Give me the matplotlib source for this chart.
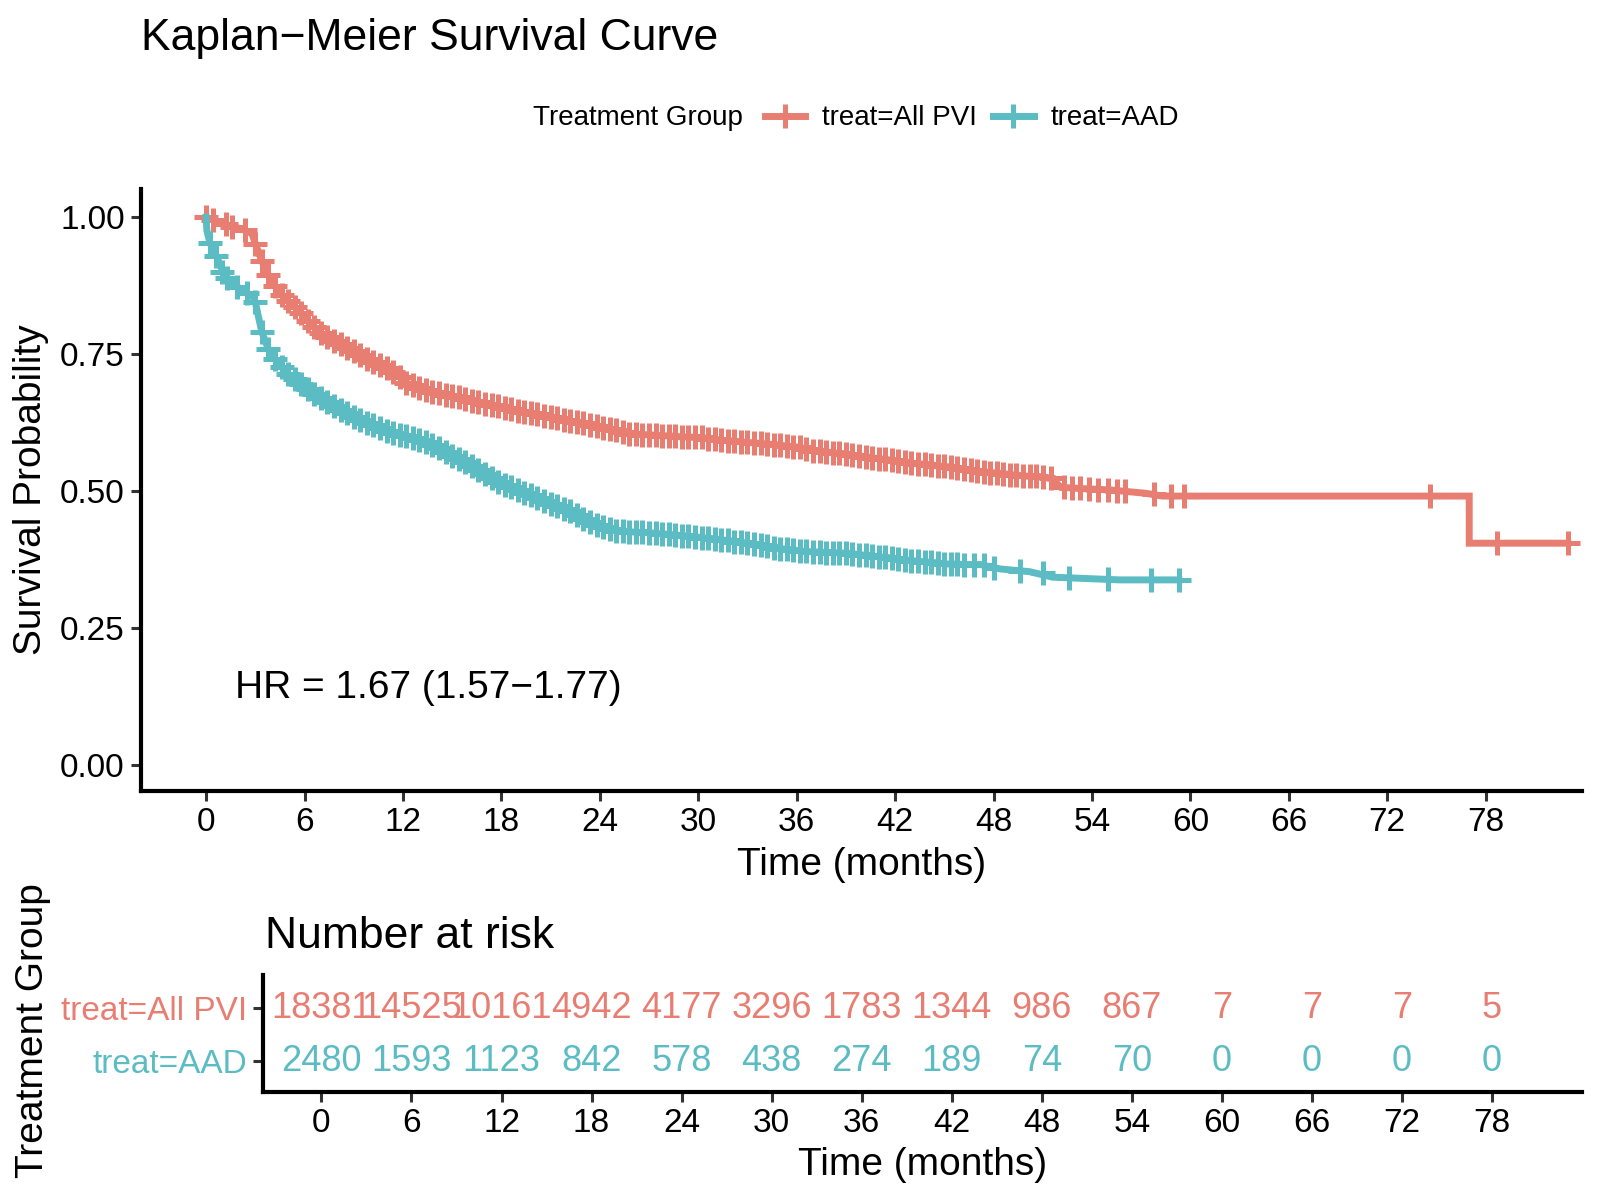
import numpy as np
import matplotlib
matplotlib.use('Agg')
import matplotlib.pyplot as plt
from matplotlib.lines import Line2D

plt.rcParams['font.family'] = ['Liberation Sans', 'DejaVu Sans']

RED = '#E87D72'
CYAN = '#5BBCC3'

# ---- All PVI curve (months, survival) ----
pvi_head_t = [0.0, 0.4, 0.8, 1.2, 1.6, 2.0, 2.4, 2.8]
pvi_head_s = [1.0, 0.995, 0.991, 0.987, 0.983, 0.980, 0.976, 0.970]
# dense stretch, a censor mark sits on every one of these points
pvi_dense_t = [3.0, 3.4, 3.8, 4.2, 4.6, 5.0, 5.4, 5.8, 6.2, 6.6, 7.0, 7.4, 7.8, 8.2, 8.6,
               9.0, 9.4, 9.8, 10.2, 10.6, 11.0, 11.4, 11.8, 12.2, 12.6, 13.0, 13.4, 13.8,
               14.2, 14.6, 15.0, 15.4, 15.8, 16.2, 16.6, 17.0, 17.4, 17.8, 18.2, 18.6, 19.0,
               19.4, 19.8, 20.2, 20.6, 21.0, 21.4, 21.8, 22.2, 22.6, 23.0, 23.4, 23.8, 24.2,
               24.6, 25.0, 25.4, 25.8, 26.2, 26.6, 27.0, 27.4, 27.8, 28.2, 28.6, 29.0, 29.4,
               29.8, 30.2, 30.6, 31.0, 31.4, 31.8, 32.2, 32.6, 33.0, 33.4, 33.8, 34.2, 34.6,
               35.0, 35.4, 35.8, 36.2, 36.6, 37.0, 37.4, 37.8, 38.2, 38.6, 39.0, 39.4, 39.8,
               40.2, 40.6, 41.0, 41.4, 41.8, 42.2, 42.6, 43.0, 43.4, 43.8, 44.2, 44.6, 45.0,
               45.4, 45.8, 46.2, 46.6, 47.0, 47.4, 47.8, 48.2, 48.6, 49.0, 49.4, 49.8, 50.2,
               50.6, 51.0]
pvi_dense_s = [0.952, 0.920, 0.895, 0.874, 0.858, 0.847, 0.837, 0.825, 0.811, 0.800, 0.789,
               0.781, 0.775, 0.768, 0.762, 0.755, 0.749, 0.742, 0.736, 0.730, 0.724, 0.717,
               0.709, 0.698, 0.693, 0.689, 0.685, 0.681, 0.679, 0.676, 0.673, 0.671, 0.668,
               0.665, 0.662, 0.660, 0.657, 0.655, 0.652, 0.650, 0.647, 0.645, 0.642, 0.640,
               0.638, 0.635, 0.633, 0.630, 0.628, 0.626, 0.624, 0.621, 0.619, 0.616, 0.613,
               0.611, 0.608, 0.605, 0.604, 0.603, 0.603, 0.602, 0.601, 0.601, 0.600, 0.599,
               0.599, 0.598, 0.598, 0.596, 0.595, 0.593, 0.592, 0.591, 0.590, 0.589, 0.588,
               0.587, 0.586, 0.585, 0.584, 0.582, 0.581, 0.580, 0.577, 0.574, 0.573, 0.572,
               0.570, 0.569, 0.568, 0.566, 0.564, 0.563, 0.561, 0.559, 0.558, 0.556, 0.555,
               0.553, 0.551, 0.550, 0.549, 0.548, 0.546, 0.545, 0.544, 0.542, 0.540, 0.538,
               0.537, 0.535, 0.534, 0.533, 0.532, 0.530, 0.529, 0.528, 0.527, 0.527, 0.526]
pvi_tail_t = [51.6, 52.1, 53.2, 55.2, 57.3, 58.3, 77.0, 77.0, 83.0]
pvi_tail_s = [0.522, 0.507, 0.505, 0.502, 0.496, 0.491, 0.491, 0.405, 0.405]
pvi_cens_t = [0.0, 0.4, 1.2, 1.6, 2.4, 51.5, 52.3, 52.8, 53.3, 53.8, 54.4, 55.0, 55.5, 56.0,
              57.8, 58.8, 59.6, 74.6, 78.7, 83.0]
pvi_cens_s = [1.0, 0.995, 0.987, 0.983, 0.976, 0.524, 0.507, 0.506, 0.505, 0.504, 0.503,
              0.502, 0.501, 0.500, 0.494, 0.491, 0.491, 0.491, 0.405, 0.405]

# ---- AAD curve ----
aad_head_t = [0.0, 0.05, 0.24, 0.65, 1.05, 1.66, 2.27, 2.88]
aad_head_s = [1.0, 0.975, 0.953, 0.928, 0.898, 0.878, 0.866, 0.854]
aad_dense_t = [3.0, 3.4, 3.8, 4.2, 4.6, 5.0, 5.4, 5.8, 6.2, 6.6, 7.0, 7.4, 7.8, 8.2, 8.6,
               9.0, 9.4, 9.8, 10.2, 10.6, 11.0, 11.4, 11.8, 12.2, 12.6, 13.0, 13.4, 13.8,
               14.2, 14.6, 15.0, 15.4, 15.8, 16.2, 16.6, 17.0, 17.4, 17.8, 18.2, 18.6, 19.0,
               19.4, 19.8, 20.2, 20.6, 21.0, 21.4, 21.8, 22.2, 22.6, 23.0, 23.4, 23.8, 24.2,
               24.6, 25.0, 25.4, 25.8, 26.2, 26.6, 27.0, 27.4, 27.8, 28.2, 28.6, 29.0, 29.4,
               29.8, 30.2, 30.6, 31.0, 31.4, 31.8, 32.2, 32.6, 33.0, 33.4, 33.8, 34.2, 34.6,
               35.0, 35.4, 35.8, 36.2, 36.6, 37.0, 37.4, 37.8, 38.2, 38.6, 39.0, 39.4, 39.8,
               40.2, 40.6, 41.0, 41.4, 41.8, 42.2, 42.6, 43.0, 43.4, 43.8, 44.2, 44.6, 45.0,
               45.4, 45.8, 46.2]
aad_dense_s = [0.845, 0.790, 0.759, 0.741, 0.727, 0.714, 0.704, 0.695, 0.686, 0.678, 0.670,
               0.662, 0.655, 0.648, 0.642, 0.635, 0.630, 0.625, 0.620, 0.615, 0.610, 0.607,
               0.603, 0.600, 0.597, 0.593, 0.589, 0.585, 0.578, 0.571, 0.565, 0.559, 0.553,
               0.546, 0.538, 0.531, 0.524, 0.517, 0.511, 0.507, 0.502, 0.497, 0.493, 0.488,
               0.482, 0.477, 0.472, 0.467, 0.463, 0.456, 0.450, 0.444, 0.438, 0.434, 0.431,
               0.428, 0.427, 0.426, 0.425, 0.425, 0.424, 0.423, 0.422, 0.421, 0.420, 0.419,
               0.418, 0.417, 0.415, 0.414, 0.413, 0.411, 0.410, 0.408, 0.407, 0.405, 0.403,
               0.401, 0.399, 0.397, 0.395, 0.394, 0.393, 0.391, 0.390, 0.389, 0.389, 0.388,
               0.388, 0.387, 0.387, 0.386, 0.384, 0.383, 0.382, 0.380, 0.379, 0.378, 0.376,
               0.375, 0.373, 0.372, 0.371, 0.370, 0.369, 0.367, 0.367, 0.367, 0.366]
aad_tail_t = [47.2, 48.4, 50.2, 51.6, 55.7, 59.3]
aad_tail_s = [0.366, 0.358, 0.353, 0.343, 0.338, 0.338]
aad_cens_t = [0.24, 0.6, 1.0, 1.3, 1.9, 2.5, 46.8, 47.4, 48.0, 49.6, 51.0, 52.6, 55.0, 57.6, 59.3]
aad_cens_s = [0.953, 0.930, 0.900, 0.890, 0.873, 0.862, 0.366, 0.365, 0.360, 0.355, 0.350,
              0.342, 0.339, 0.338, 0.338]

# ---- number at risk table ----
risk_times = [0, 6, 12, 18, 24, 30, 36, 42, 48, 54, 60, 66, 72, 78]
pvi_risk = [18381, 14525, 10161, 4942, 4177, 3296, 1783, 1344, 986, 867, 7, 7, 7, 5]
aad_risk = [2480, 1593, 1123, 842, 578, 438, 274, 189, 74, 70, 0, 0, 0, 0]
groups = ['treat=All PVI', 'treat=AAD']
hr_text = 'HR = 1.67 (1.57\u22121.77)'

LW = 5
MS = 17
MEW = 3.6
TICK = 24

fig = plt.figure(figsize=(16, 12), dpi=100)

# main survival plot
ax = fig.add_axes([0.088, 0.341, 0.9885 - 0.088, 0.8427 - 0.341])
for ht, hs, dt, ds, tt, ts, ct, cs, col in [
        (pvi_head_t, pvi_head_s, pvi_dense_t, pvi_dense_s, pvi_tail_t, pvi_tail_s,
         pvi_cens_t, pvi_cens_s, RED),
        (aad_head_t, aad_head_s, aad_dense_t, aad_dense_s, aad_tail_t, aad_tail_s,
         aad_cens_t, aad_cens_s, CYAN)]:
    ax.plot(ht + dt + tt, hs + ds + ts, color=col, lw=LW, solid_joinstyle='miter')
    ax.plot(dt, ds, ls='none', marker='+', ms=MS, mew=MEW, color=col)
    ax.plot(ct, cs, ls='none', marker='+', ms=MS, mew=MEW, color=col)

ax.set_xlim(-3.98, 83.85)
ax.set_ylim(-0.047, 1.052)
ax.set_xticks(risk_times)
ax.set_yticks([0, 0.25, 0.5, 0.75, 1.0])
ax.set_yticklabels(['0.00', '0.25', '0.50', '0.75', '1.00'])
ax.tick_params(labelsize=TICK, length=7.5, width=2.2, color='#333333', pad=4)
for side in ['top', 'right']:
    ax.spines[side].set_visible(False)
for side in ['left', 'bottom']:
    ax.spines[side].set_linewidth(3)
ax.set_xlabel('Time (months)', fontsize=28, labelpad=7)
ax.set_ylabel('Survival Probability', fontsize=28, labelpad=8)
ax.text(1.74, 0.14, hr_text, fontsize=28, va='center', ha='left')

fig.text(0.088, 0.968, 'Kaplan\u2212Meier Survival Curve', fontsize=32, va='center', ha='left')

# legend
fig.text(0.4643, 0.9013, 'Treatment Group', fontsize=20, va='center', ha='right')
handles = [Line2D([0], [0], color=RED, lw=LW, marker='+', ms=MS, mew=MEW),
           Line2D([0], [0], color=CYAN, lw=LW, marker='+', ms=MS, mew=MEW)]
fig.legend(handles, groups, loc='center left', bbox_to_anchor=(0.478, 0.9013), ncol=2,
           frameon=False, fontsize=20, handlelength=1.45, handletextpad=0.6, columnspacing=0.6,
           borderaxespad=0, borderpad=0)

# risk table
rt = fig.add_axes([0.1645, 0.0901, 0.9885 - 0.1645, 0.1879 - 0.0901])
for t, n in zip(risk_times, pvi_risk):
    rt.text(t, 1, str(n), color=RED, fontsize=26, ha='center', va='center')
for t, n in zip(risk_times, aad_risk):
    rt.text(t, 0, str(n), color=CYAN, fontsize=26, ha='center', va='center')
rt.set_xlim(-3.88, 83.97)
rt.set_ylim(-0.577, 1.635)
rt.set_xticks(risk_times)
rt.set_yticks([0, 1])
rt.set_yticklabels([groups[1], groups[0]])
for lab, c in zip(rt.get_yticklabels(), [CYAN, RED]):
    lab.set_color(c)
rt.tick_params(labelsize=TICK, length=7.5, width=2.2, color='#333333', pad=4)
for side in ['top', 'right']:
    rt.spines[side].set_visible(False)
for side in ['left', 'bottom']:
    rt.spines[side].set_linewidth(3)
rt.set_xlabel('Time (months)', fontsize=28, labelpad=6)
fig.text(0.1658, 0.220, 'Number at risk', fontsize=32, va='center', ha='left')
fig.text(0.0204, 0.141, 'Treatment Group', fontsize=28, rotation=90, va='center', ha='center')

fig.savefig('out.png', dpi=100)
